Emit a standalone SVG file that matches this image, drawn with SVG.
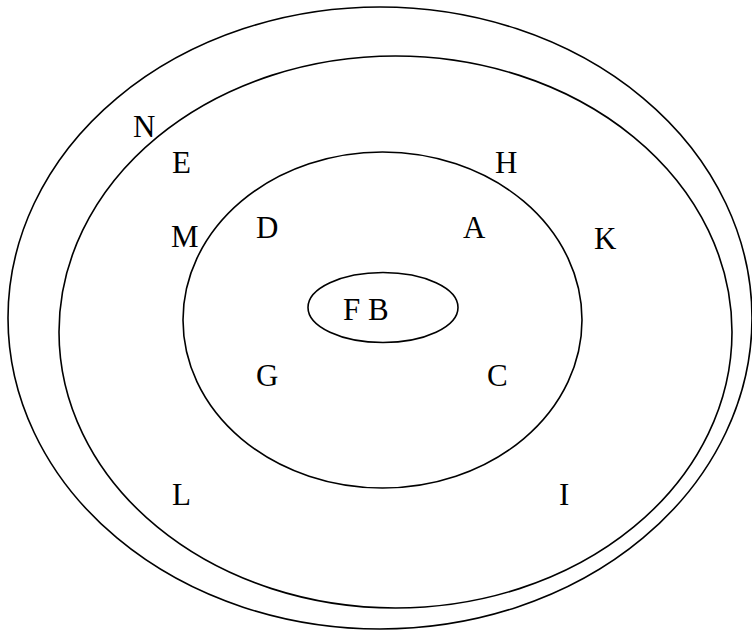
<svg xmlns="http://www.w3.org/2000/svg" width="752" height="631" viewBox="0 0 752 631">
<style>
.s{fill:none;stroke:#000;stroke-width:1.6}
text{font-family:"Liberation Serif","Times New Roman",serif;font-size:31px;fill:#000}
</style>
<rect width="752" height="631" fill="#fff"/>
<g id="set-outer"><ellipse class="s" cx="380" cy="318" rx="372" ry="311"/></g>
<g id="set-second"><ellipse class="s" cx="395.5" cy="332" rx="336.5" ry="276"/></g>
<g id="set-third"><ellipse class="s" cx="382.5" cy="320" rx="199.5" ry="168"/></g>
<g id="set-inner"><ellipse class="s" cx="383" cy="307.5" rx="75" ry="35"/><text x="343" y="320">F B</text></g>
<g id="labels">
<text x="133" y="137">N</text>
<text x="172" y="173">E</text>
<text x="495" y="173">H</text>
<text x="171" y="247">M</text>
<text x="256" y="238">D</text>
<text x="463" y="238">A</text>
<text x="594" y="249">K</text>
<text x="256" y="386">G</text>
<text x="487" y="386">C</text>
<text x="172" y="505">L</text>
<text x="559" y="505">I</text>
</g>
</svg>
